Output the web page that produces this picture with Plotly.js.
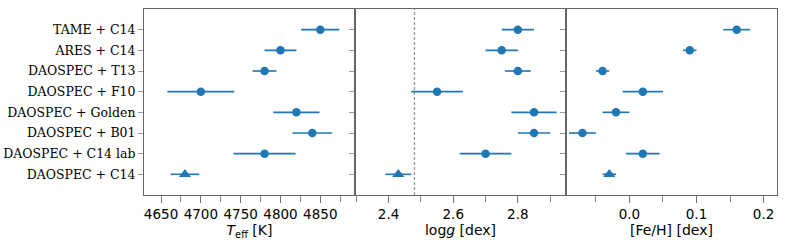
<!DOCTYPE html>
<html>
<head>
<meta charset="utf-8">
<script src="https://cdn.plot.ly/plotly-3.0.1.min.js"></script>
<style>html,body{margin:0;padding:0;background:#fff}#chart{width:789px;height:244px}</style>
</head>
<body>
<div id="chart"></div>
<script>
// Methods, listed top to bottom
const methods = ["TAME + C14", "ARES + C14", "DAOSPEC + T13", "DAOSPEC + F10",
  "DAOSPEC + Golden", "DAOSPEC + B01", "DAOSPEC + C14 lab", "DAOSPEC + C14"];
const symbols = ["circle", "circle", "circle", "circle", "circle", "circle", "circle", "triangle-up"];

const teff    = [4850, 4800, 4780, 4700, 4820, 4840, 4780, 4680];
const teffErr = [24, 20, 15, 42, 29, 25, 39, 18];

const logg    = [2.80, 2.75, 2.80, 2.55, 2.85, 2.85, 2.70, 2.43];
const loggErr = [0.05, 0.05, 0.04, 0.08, 0.07, 0.05, 0.08, 0.04];
const loggRef = 2.48;

const feh     = [0.16, 0.09, -0.04, 0.02, -0.02, -0.07, 0.02, -0.03];
const fehErr  = [0.02, 0.01, 0.01, 0.03, 0.02, 0.02, 0.025, 0.01];

const blue = "#1f77b4";
const sizes = symbols.map(s => s === "triangle-up" ? 10.5 : 8.5);
function tr(x, err, xa, ya) {
  return {
    type: "scatter", mode: "markers", x: x, y: methods, xaxis: xa, yaxis: ya,
    marker: {color: blue, size: sizes, symbol: symbols, opacity: 1, line: {width: 0}},
    error_x: {type: "data", array: err, visible: true, color: blue, thickness: 1.6, width: 0},
    showlegend: false, hoverinfo: "skip"
  };
}
const data = [
  tr(teff, teffErr, "x", "y"),
  tr(logg, loggErr, "x2", "y2"),
  tr(feh, fehErr, "x3", "y3")
];

const lineCol = "#666";
const tickFont = {family: "DejaVu Sans", size: 13.5, color: "#000"};
const titleFont = {family: "DejaVu Sans", size: 14, color: "#000"};
function xax(dom, anchor, range, tick0, dtick, mdtick, title) {
  return {
    domain: dom, anchor: anchor, range: range,
    tick0: tick0, dtick: dtick, ticks: "outside", ticklen: 7, tickwidth: 1, tickcolor: "#777",
    minor: {tick0: tick0, dtick: mdtick, ticks: "outside", ticklen: 6, tickwidth: 1, tickcolor: "#888"},
    showgrid: false, zeroline: false, showline: true, linecolor: lineCol, linewidth: 1, mirror: true,
    tickfont: tickFont, title: {text: title, font: titleFont, standoff: 2},
    automargin: false
  };
}
function yax(anchor, showLabels) {
  return {
    anchor: anchor, domain: [0, 1], type: "category",
    categoryorder: "array", categoryarray: methods,
    range: [methods.length, -1],
    ticks: "outside", ticklen: 5, tickwidth: 1, tickcolor: "#999",
    showticklabels: showLabels,
    tickfont: {family: "DejaVu Serif", size: 12.5, color: "#000"},
    showgrid: false, zeroline: false, showline: true, linecolor: lineCol, linewidth: 1, mirror: true,
    automargin: false
  };
}
const w = 1 / 3;
const layout = {
  width: 789, height: 244,
  margin: {l: 144, r: 12, t: 9, b: 49},
  paper_bgcolor: "#fff", plot_bgcolor: "#fff",
  xaxis: xax([0, w], "y", [4628.6, 4893.6], 4650, 50, 25, "<i>T</i><sub>eff</sub> [K]"),
  xaxis2: xax([w, 2 * w], "y2", [2.296, 2.949], 2.4, 0.2, 0.1, "log<i>g</i> [dex]"),
  xaxis3: xax([2 * w, 1], "y3", [-0.0945, 0.22], 0, 0.1, 0.05, "[Fe/H] [dex]"),
  yaxis: yax("x", true),
  yaxis2: yax("x2", false),
  yaxis3: yax("x3", false),
  shapes: [{
    type: "line", xref: "x2", yref: "paper", x0: loggRef, x1: loggRef, y0: 0, y1: 1,
    line: {color: "#999", width: 1.3, dash: "3px,2px"}, layer: "below"
  }]
};
layout.xaxis3.tickformat = ".1f";
layout.xaxis2.tickformat = ".1f";
Plotly.newPlot("chart", data, layout, {staticPlot: true, displayModeBar: false});
</script>
</body>
</html>
